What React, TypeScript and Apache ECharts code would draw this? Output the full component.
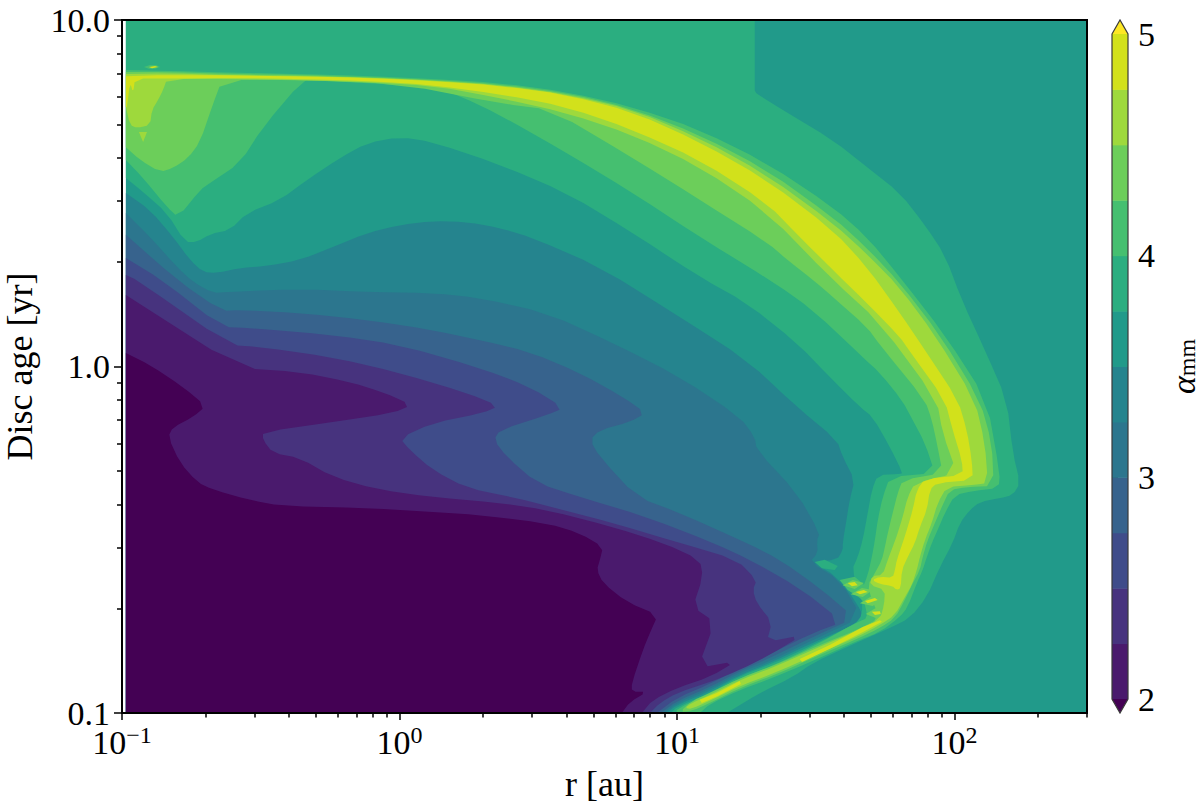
import React, { useEffect, useRef } from "react";
import * as echarts from "echarts";

const FONT = "Liberation Serif";

const xMajor = [0.1, 1, 10, 100];
const xMinor = [0.2,0.3,0.4,0.5,0.6,0.7,0.8,0.9,2,3,4,5,6,7,8,9,20,30,40,50,60,70,80,90,200,300];
const yMajor = [0.1, 1, 10];
const yMinor = [0.2,0.3,0.4,0.5,0.6,0.7,0.8,0.9,2,3,4,5,6,7,8,9];
const xLabels: Record<string, string> = { "0.1": "\u22121", "1": "0", "10": "1", "100": "2" };

// colours of the filled contour bands, low to high
const cUnder = "#440154";
const c200 = "#4a1a6d";
const c225 = "#47337e";
const c250 = "#3f4c8a";
const c275 = "#37638d";
const c300 = "#2c768e";
const c325 = "#25848e";
const c350 = "#219a8a";
const c375 = "#2bae80";
const c400 = "#45bf70";
const c425 = "#6cce5a";
const c450 = "#9ed93c";
const c475 = "#d2e11b";
const cOver = "#fde725";
const cbLevels = [2, 2.25, 2.5, 2.75, 3, 3.25, 3.5, 3.75, 4, 4.25, 4.5, 4.75, 5];
const cbColors = [c200, c225, c250, c275, c300, c325, c350, c375, c400, c425, c450, c475];

// contour outlines as [log10 r, log10 age]
const domain = [[-.986,-1],[2.477,-1],[2.477,1],[-.986,1]];
const le350 = [[-.986,.501],[-.899,.452],[-.816,.374],[-.755,.307],[-.708,.273],[-.658,.270],[-.575,.284],[-.478,.290],[-.359,.307],[-.240,.345],[-.117,.385],[.001,.408],[.120,.420],[.243,.417],[.362,.400],[.481,.371],[.722,.287],[1.010,.143],[1.251,.019],[1.432,-.117],[1.576,-.212],[1.597,-.261],[1.640,-.328],[1.622,-.385],[1.612,-.434],[1.597,-.509],[1.597,-.530],[1.576,-.558],[1.489,-.564],[1.576,-.607],[1.648,-.683],[1.677,-.732],[1.489,-.797],[1.334,-.856],[1.226,-.890],[1.118,-.937],[.999,-.977],[.963,-1],[-.986,-1]];
const le325 = [[-.986,.443],[-.899,.374],[-.802,.287],[-.744,.244],[-.672,.212],[-.622,.215],[-.359,.224],[-.117,.215],[.120,.212],[.290,.198],[.531,.154],[.769,.068],[1.010,-.030],[1.226,-.146],[1.280,-.203],[1.287,-.241],[1.432,-.365],[1.514,-.481],[1.504,-.501],[1.507,-.538],[1.478,-.564],[1.586,-.616],[1.666,-.723],[1.489,-.789],[1.334,-.850],[1.226,-.884],[1.118,-.931],[.999,-.971],[.953,-1],[-.986,-1]];
const le300 = [[-.986,.380],[-.802,.250],[-.640,.160],[-.575,.163],[-.359,.154],[-.117,.134],[.120,.105],[.290,.076],[.470,.042],[.650,-.019],[.805,-.088],[.887,-.134],[.830,-.160],[.722,-.183],[.686,-.212],[.722,-.261],[.855,-.377],[1.010,-.423],[1.251,-.509],[1.370,-.558],[1.514,-.639],[1.640,-.726],[1.489,-.781],[1.334,-.841],[1.226,-.879],[1.118,-.925],[.999,-.965],[.942,-1],[-.986,-1]];
const le275 = [[-.986,.313],[-.856,.250],[-.640,.114],[-.539,.111],[-.240,.091],[.001,.062],[.290,-.004],[.470,-.059],[.592,-.120],[.531,-.140],[.362,-.183],[.340,-.212],[.387,-.261],[.495,-.336],[.650,-.377],[.891,-.434],[1.129,-.509],[1.262,-.558],[1.442,-.639],[1.597,-.737],[1.489,-.769],[1.334,-.830],[1.226,-.870],[1.118,-.916],[.999,-.957],[.927,-1],[-.986,-1]];
const le250 = [[-.986,.264],[-.946,.250],[-.611,.062],[-.503,.056],[-.240,.027],[.001,-.019],[.243,-.076],[.358,-.114],[.300,-.134],[.120,-.163],[.001,-.206],[.037,-.241],[.120,-.299],[.243,-.351],[.408,-.377],[.589,-.414],[.769,-.452],[1.010,-.509],[1.215,-.558],[1.287,-.616],[1.273,-.645],[1.287,-.683],[1.342,-.737],[1.323,-.795],[1.453,-.775],[1.334,-.833],[1.226,-.876],[1.118,-.911],[.999,-.942],[.938,-.971],[.902,-1],[-.986,-1]];
const le225 = [[-.986,.206],[-.575,-.004],[-.359,-.016],[-.179,-.045],[-.060,-.074],[.044,-.111],[-.024,-.134],[-.240,-.160],[-.492,-.189],[-.492,-.212],[-.456,-.250],[-.359,-.264],[-.240,-.319],[-.081,-.354],[.120,-.377],[.362,-.394],[.531,-.414],[.769,-.463],[.949,-.509],[1.082,-.558],[1.093,-.607],[1.057,-.694],[1.136,-.737],[1.075,-.870],[1.215,-.850],[1.118,-.896],[.999,-.928],[.913,-.962],[.873,-1],[-.986,-1]];
const le200 = [[-.986,.039],[-.899,.004],[-.780,-.059],[-.698,-.114],[-.744,-.146],[-.816,-.175],[-.834,-.203],[-.791,-.278],[-.730,-.333],[-.672,-.356],[-.539,-.385],[-.424,-.403],[-.117,-.408],[.120,-.420],[.290,-.429],[.531,-.452],[.650,-.481],[.733,-.521],[.722,-.558],[.711,-.587],[.733,-.625],[.819,-.680],[.931,-.717],[.902,-.769],[.877,-.818],[.837,-.913],[.837,-.939],[.891,-.939],[.830,-.968],[.801,-1],[-.986,-1]];
const ge375 = [[-.986,.544],[-.986,1],[1.280,1],[1.280,.810],[1.280,.792],[1.300,.781],[1.381,.740],[1.561,.654],[1.684,.576],[1.803,.501],[1.893,.408],[1.965,.322],[2.026,.192],[2.109,.048],[2.188,-.097],[2.210,-.250],[2.236,-.336],[2.210,-.371],[2.163,-.380],[2.091,-.391],[2.055,-.414],[2.019,-.452],[1.993,-.509],[1.947,-.579],[1.900,-.665],[1.839,-.726],[1.767,-.755],[1.612,-.809],[1.489,-.856],[1.417,-.896],[1.298,-.942],[1.179,-1],[.978,-1],[.999,-.983],[1.118,-.942],[1.226,-.893],[1.334,-.861],[1.489,-.804],[1.612,-.755],[1.659,-.732],[1.669,-.694],[1.659,-.645],[1.630,-.587],[1.651,-.550],[1.669,-.501],[1.687,-.423],[1.702,-.356],[1.723,-.313],[1.803,-.310],[1.813,-.307],[1.767,-.232],[1.705,-.146],[1.659,-.117],[1.550,-.030],[1.432,.068],[1.251,.183],[1.082,.258],[.841,.385],[.603,.501],[.362,.582],[.120,.648],[.001,.662],[-.117,.645],[-.215,.602],[-.334,.538],[-.431,.481],[-.550,.443],[-.611,.394],[-.683,.382],[-.730,.359],[-.773,.359],[-.838,.443],[-.924,.504]];
const ge375Finger = [[1.496,-.564],[1.532,-.558],[1.579,-.576],[1.568,-.587],[1.522,-.582]];
const ge400 = [[-.986,.596],[-.924,.544],[-.838,.460],[-.798,.431],[-.719,.509],[-.683,.530],[-.575,.587],[-.492,.691],[-.348,.827],[-.300,.826],[.120,.807],[.218,.781],[.362,.726],[.603,.616],[.841,.501],[1.082,.374],[1.352,.241],[1.489,.163],[1.669,.027],[1.731,-.019],[1.810,-.097],[1.849,-.154],[1.893,-.221],[1.929,-.307],[1.767,-.319],[1.741,-.377],[1.723,-.443],[1.713,-.501],[1.702,-.550],[1.687,-.602],[1.666,-.645],[1.677,-.688],[1.687,-.726],[1.651,-.737],[1.489,-.809],[1.334,-.867],[1.226,-.899],[1.118,-.945],[.999,-.988],[.999,-1],[1.082,-1],[1.118,-.974],[1.226,-.934],[1.334,-.902],[1.489,-.850],[1.648,-.792],[1.731,-.766],[1.803,-.723],[1.831,-.694],[1.864,-.625],[1.885,-.587],[1.900,-.550],[1.918,-.509],[1.939,-.472],[1.965,-.423],[2.001,-.371],[2.066,-.359],[2.159,-.351],[2.163,-.307],[2.116,-.097],[1.965,.091],[1.803,.258],[1.684,.374],[1.561,.460],[1.323,.587],[1.082,.683],[.841,.749],[.603,.792],[.362,.818],[.120,.830],[-.117,.838],[-.359,.844],[-.600,.848],[-.838,.853],[-.986,.856]];
const ge400Fingers = [[1.586,-.616],[1.640,-.607],[1.687,-.639],[1.731,-.662],[1.731,-.717],[1.687,-.691],[1.659,-.668],[1.615,-.645]];
const ge400Cap = [[-.921,.864],[-.899,.870],[-.877,.870],[-.863,.864],[-.881,.859],[-.903,.859]];
const ge425 = [[-.986,.633],[-.935,.596],[-.863,.561],[-.816,.573],[-.762,.602],[-.719,.648],[-.676,.749],[-.640,.827],[-.359,.827],[.001,.815],[.362,.760],[.549,.740],[.841,.602],[1.082,.481],[1.323,.359],[1.406,.302],[1.489,.250],[1.561,.201],[1.684,.114],[1.731,.062],[1.893,-.097],[1.918,-.154],[1.936,-.221],[1.957,-.307],[1.813,-.328],[1.795,-.365],[1.777,-.423],[1.759,-.481],[1.749,-.521],[1.738,-.558],[1.713,-.596],[1.687,-.631],[1.702,-.674],[1.731,-.726],[1.648,-.760],[1.514,-.804],[1.360,-.859],[1.226,-.900],[1.118,-.942],[1.053,-.965],[1.010,-.997],[1.053,-.994],[1.118,-.971],[1.226,-.928],[1.360,-.887],[1.514,-.833],[1.648,-.786],[1.731,-.755],[1.785,-.726],[1.821,-.674],[1.846,-.631],[1.875,-.587],[1.885,-.550],[1.903,-.501],[1.929,-.452],[1.954,-.405],[1.983,-.356],[2.044,-.348],[2.141,-.345],[2.134,-.221],[2.091,-.097],[1.947,.091],[1.803,.241],[1.684,.342],[1.561,.431],[1.323,.567],[1.082,.668],[.841,.743],[.603,.789],[.362,.814],[.120,.827],[-.117,.835],[-.359,.841],[-.600,.844],[-.838,.850],[-.986,.850]];
const ge425HaloA = [[1.597,-.631],[1.633,-.616],[1.673,-.625],[1.640,-.642]];
const ge425HaloB = [[1.626,-.657],[1.666,-.639],[1.705,-.645],[1.669,-.665]];
const ge425HaloC = [[1.659,-.683],[1.702,-.662],[1.746,-.668],[1.705,-.691]];
const ge425HaloD = [[1.680,-.714],[1.716,-.697],[1.756,-.703],[1.716,-.726]];
const ge450 = [[-.986,.749],[-.971,.697],[-.946,.688],[-.899,.697],[-.892,.740],[-.870,.769],[-.852,.798],[-.838,.830],[-.600,.830],[-.359,.827],[-.117,.821],[.120,.810],[.362,.775],[.603,.732],[.841,.668],[1.082,.576],[1.323,.446],[1.561,.250],[1.731,.126],[1.936,-.097],[1.957,-.192],[2.008,-.307],[1.857,-.336],[1.831,-.377],[1.813,-.434],[1.795,-.481],[1.777,-.521],[1.759,-.558],[1.741,-.602],[1.702,-.605],[1.695,-.631],[1.749,-.645],[1.746,-.688],[1.731,-.729],[1.648,-.763],[1.514,-.809],[1.360,-.864],[1.226,-.905],[1.118,-.948],[1.053,-.971],[1.028,-.986],[1.053,-.988],[1.118,-.965],[1.226,-.922],[1.360,-.882],[1.514,-.827],[1.648,-.781],[1.731,-.746],[1.785,-.717],[1.821,-.665],[1.846,-.631],[1.864,-.587],[1.875,-.550],[1.893,-.501],[1.918,-.452],[1.939,-.394],[1.972,-.348],[2.066,-.342],[2.120,-.336],[2.109,-.221],[2.073,-.097],[1.929,.091],[1.803,.227],[1.684,.325],[1.561,.414],[1.323,.553],[1.082,.659],[.841,.740],[.603,.786],[.362,.812],[.120,.825],[-.117,.834],[-.359,.838],[-.600,.841],[-.838,.846],[-.986,.844]];
const ge450Drip = [[-.939,.677],[-.910,.677],[-.924,.648]];
const ge475 = [[-.986,.838],[-.838,.841],[-.600,.840],[-.359,.837],[-.117,.833],[.120,.824],[.362,.810],[.603,.784],[.841,.734],[1.082,.648],[1.323,.538],[1.561,.394],[1.684,.287],[1.803,.154],[1.893,.048],[2.012,-.097],[2.044,-.183],[2.062,-.270],[2.066,-.328],[1.936,-.336],[1.911,-.356],[1.900,-.414],[1.875,-.463],[1.857,-.509],[1.831,-.550],[1.810,-.587],[1.806,-.639],[1.792,-.645],[1.774,-.633],[1.731,-.628],[1.702,-.616],[1.731,-.607],[1.777,-.610],[1.785,-.587],[1.792,-.558],[1.813,-.509],[1.831,-.463],[1.849,-.414],[1.864,-.356],[1.893,-.325],[2.030,-.313],[2.026,-.270],[1.993,-.183],[1.965,-.097],[1.835,.048],[1.803,.085],[1.684,.183],[1.561,.279],[1.442,.374],[1.323,.472],[1.082,.596],[.841,.683],[.603,.749],[.362,.786],[.120,.812],[-.117,.824],[-.359,.830],[-.600,.833],[-.838,.831],[-.953,.831],[-.960,.789],[-.971,.821],[-.982,.749],[-.986,.749]];
const ge475Strip = [[1.442,-.844],[1.550,-.804],[1.669,-.752],[1.731,-.732],[1.738,-.737],[1.677,-.763],[1.558,-.812],[1.450,-.853]];
const ge475Dash = [[1.082,-.962],[1.143,-.942],[1.226,-.908],[1.230,-.916],[1.147,-.951],[1.089,-.971]];
const ge475BlobA = [[1.615,-.625],[1.640,-.622],[1.651,-.631],[1.630,-.634]];
const ge475BlobB = [[1.644,-.651],[1.673,-.645],[1.687,-.651],[1.659,-.657]];
const ge475BlobC = [[1.677,-.677],[1.713,-.668],[1.723,-.674],[1.687,-.683]];
const ge475BlobD = [[1.702,-.708],[1.731,-.706],[1.734,-.714],[1.713,-.717]];
const ge475Cap = [[-.903,.864],[-.881,.867],[-.870,.864],[-.892,.861]];

const rings: { pts: number[][]; color: string }[] = [
  { pts: domain, color: c350 },
  { pts: le350, color: c325 },
  { pts: le325, color: c300 },
  { pts: le300, color: c275 },
  { pts: le275, color: c250 },
  { pts: le250, color: c225 },
  { pts: le225, color: c200 },
  { pts: le200, color: cUnder },
  { pts: ge375, color: c375 },
  { pts: ge375Finger, color: c375 },
  { pts: ge400, color: c400 },
  { pts: ge400Fingers, color: c400 },
  { pts: ge400Cap, color: c400 },
  { pts: ge425, color: c425 },
  { pts: ge425HaloA, color: c425 },
  { pts: ge425HaloB, color: c425 },
  { pts: ge425HaloC, color: c425 },
  { pts: ge425HaloD, color: c425 },
  { pts: ge450, color: c450 },
  { pts: ge450Drip, color: c450 },
  { pts: ge475, color: c475 },
  { pts: ge475Strip, color: c475 },
  { pts: ge475Dash, color: c475 },
  { pts: ge475BlobA, color: c475 },
  { pts: ge475BlobB, color: c475 },
  { pts: ge475BlobC, color: c475 },
  { pts: ge475BlobD, color: c475 },
  { pts: ge475Cap, color: c475 },
];

function soften(screen: number[][], src: number[][]) {
  const n = screen.length;
  const out: number[][] = [];
  for (let i = 0; i < n; i++) {
    const v = screen[i];
    const s = src[i];
    if (s[0] === -0.986 || s[0] === 2.477 || s[1] === 1 || s[1] === -1) {
      out.push(v);
      continue;
    }
    const a = screen[(i + n - 1) % n];
    const b = screen[(i + 1) % n];
    out.push([v[0] + (a[0] - v[0]) * 0.25, v[1] + (a[1] - v[1]) * 0.25]);
    out.push([v[0] + (b[0] - v[0]) * 0.25, v[1] + (b[1] - v[1]) * 0.25]);
  }
  return out;
}

export default function App() {
  const ref = useRef<HTMLDivElement>(null);
  useEffect(() => {
    const chart = echarts.init(ref.current!, undefined, { renderer: "svg" });
    const text = { fontFamily: FONT, color: "#000", fontSize: 34 };
    const nameText = { fontFamily: FONT, color: "#000", fontSize: 36 };
    const tickStyle = { color: "#000", width: 1.5 };
    const bareAxis = { axisLine: { show: false }, splitLine: { show: false }, minorTick: { show: false } };
    chart.setOption({
      animation: false,
      backgroundColor: "#fff",
      grid: [
        { left: 122, top: 20, width: 965, height: 693, show: false, outerBoundsMode: "none" },
        { left: 1112, top: 34, width: 16, height: 665, show: false, outerBoundsMode: "none" },
      ],
      xAxis: [
        {
          type: "log", logBase: 10, min: 0.1, max: 300, gridIndex: 0, position: "bottom", ...bareAxis,
          name: "r [au]", nameLocation: "middle", nameGap: 53, nameTextStyle: nameText,
          axisTick: { show: true, length: 7, lineStyle: tickStyle, customValues: xMajor },
          axisLabel: {
            show: true, margin: 10, customValues: xMajor,
            formatter: (v: number) => `{b|10}{s|${xLabels[String(v)] ?? ""}}`,
            rich: {
              b: { ...text },
              s: { fontFamily: FONT, color: "#000", fontSize: 24, padding: [0, 0, 14, 0] },
            },
          },
        },
        {
          type: "log", logBase: 10, min: 0.1, max: 300, gridIndex: 0, position: "bottom", ...bareAxis,
          axisTick: { show: true, length: 4.5, lineStyle: tickStyle, customValues: xMinor },
          axisLabel: { show: false },
        },
        { type: "value", min: 0, max: 1, gridIndex: 1, show: false },
      ],
      yAxis: [
        {
          type: "log", logBase: 10, min: 0.1, max: 10, gridIndex: 0, position: "left", ...bareAxis,
          name: "Disc age [yr]", nameLocation: "middle", nameGap: 84, nameRotate: 90, nameTextStyle: nameText,
          axisTick: { show: true, length: 8, lineStyle: tickStyle, customValues: yMajor },
          axisLabel: { show: true, margin: 12, customValues: yMajor, ...text, formatter: (v: number) => v.toFixed(1) },
        },
        {
          type: "log", logBase: 10, min: 0.1, max: 10, gridIndex: 0, position: "left", ...bareAxis,
          axisTick: { show: true, length: 5, lineStyle: tickStyle, customValues: yMinor },
          axisLabel: { show: false },
        },
        {
          type: "value", min: 2, max: 5, interval: 1, gridIndex: 1, position: "right",
          axisLine: { show: false }, splitLine: { show: false },
          axisTick: { show: true, length: 6, lineStyle: { color: "#222", width: 1.2 } },
          axisLabel: { show: true, margin: 10, ...text },
          name: "{i|\u03b1}{m|mm}", nameLocation: "middle", nameGap: 38, nameRotate: 90,
          nameTextStyle: {
            rich: {
              i: { fontFamily: FONT, fontStyle: "italic", fontSize: 34, color: "#000" },
              m: { fontFamily: FONT, fontSize: 24, color: "#000", padding: [8, 0, 0, 0] },
            },
          },
        },
      ],
      graphic: [
        { type: "rect", z: 100, silent: true, shape: { x: 122, y: 20, width: 965, height: 693 }, style: { fill: "none", stroke: "#000", lineWidth: 2 } },
      ],
      series: [
        {
          type: "custom", coordinateSystem: "cartesian2d", xAxisIndex: 0, yAxisIndex: 0, clip: false, silent: true, z: 2,
          data: rings.map((r) => [10 ** r.pts[0][0], 10 ** r.pts[0][1]]),
          renderItem: (params: any, api: any) => {
            const r = rings[params.dataIndex];
            const scr = r.pts.map((p) => api.coord([10 ** p[0], 10 ** p[1]]));
            return {
              type: "polygon",
              shape: { points: r.pts.length >= 12 ? soften(scr, r.pts) : scr },
              style: { fill: r.color },
            };
          },
        },
        {
          type: "custom", coordinateSystem: "cartesian2d", xAxisIndex: 2, yAxisIndex: 2, clip: false, silent: true, z: 2,
          data: cbColors.map((_, i) => [0, cbLevels[i]]),
          renderItem: (params: any, api: any) => {
            const i = params.dataIndex;
            const a = api.coord([0, cbLevels[i + 1]]);
            const b = api.coord([1, cbLevels[i]]);
            return { type: "rect", shape: { x: a[0], y: a[1], width: b[0] - a[0], height: b[1] - a[1] + 0.5 }, style: { fill: cbColors[i] } };
          },
        },
        {
          type: "custom", coordinateSystem: "cartesian2d", xAxisIndex: 2, yAxisIndex: 2, clip: false, silent: true, z: 3,
          data: [[0, 5], [0, 2], [0, 2]],
          renderItem: (params: any, api: any) => {
            const i = params.dataIndex;
            const P = (x: number, y: number) => api.coord([x, y]);
            if (i === 0) return { type: "polygon", shape: { points: [P(0, 5), P(1, 5), P(0.5, 5.063)] }, style: { fill: cOver } };
            if (i === 1) return { type: "polygon", shape: { points: [P(0, 2), P(1, 2), P(0.5, 1.937)] }, style: { fill: cUnder } };
            return {
              type: "polygon",
              shape: { points: [P(0, 5), P(0.5, 5.063), P(1, 5), P(1, 2), P(0.5, 1.937), P(0, 2)] },
              style: { fill: "none", stroke: "#3a3a3a", lineWidth: 1.2 },
            };
          },
        },
      ],
    });
    return () => chart.dispose();
  }, []);
  return <div ref={ref} style={{ position: "fixed", left: 0, top: 0, width: 1200, height: 808 }} />;
}
